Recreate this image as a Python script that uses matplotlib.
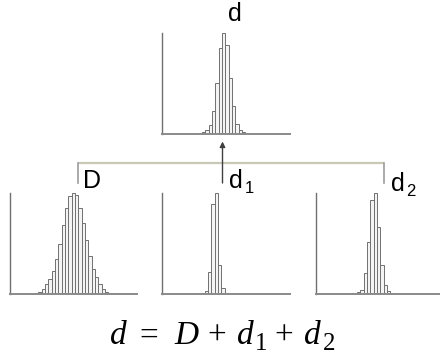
import matplotlib
matplotlib.use("Agg")
import matplotlib.pyplot as plt
import numpy as np

# Histogram bin offsets (in bins, relative to each peak) and relative counts (peak = 100)
d_bins = list(range(-6, 7))
d_counts = [2, 4, 9, 23, 50, 85, 100, 88, 55, 28, 10, 4, 2]

D_bins = list(range(-11, 12))
D_counts = [1, 2, 5, 10, 15, 23, 35, 50, 68, 85, 97, 100, 98, 85, 70, 53, 38, 25, 17, 10, 5, 2, 1]

d1_bins = list(range(-4, 4))
d1_counts = [1, 3, 22, 89, 100, 29, 6, 1]

d2_bins = list(range(-5, 6))
d2_counts = [2, 4, 21, 51, 93, 100, 66, 29, 9, 3, 1]

W, H = 440, 356
fig = plt.figure(figsize=(W / 100, H / 100), dpi=100)
fig.patch.set_facecolor("white")


def px_axes(x0, y0, x1, y1):
    """Axes placed by pixel box (top-left origin)."""
    return fig.add_axes([x0 / W, 1 - y1 / H, (x1 - x0) / W, (y1 - y0) / H])


def hist_panel(ax, bins, counts, xlim):
    ax.bar(bins, counts, width=1.0, facecolor="#f4f4f4", edgecolor="#707070",
           linewidth=0.7, zorder=2)
    ax.set_xlim(*xlim)
    ax.set_ylim(0, 100)
    for s in ("top", "right"):
        ax.spines[s].set_visible(False)
    ax.spines["left"].set_color("#707070")
    ax.spines["bottom"].set_color("#8a8a8a")
    ax.spines["left"].set_linewidth(1.0)
    ax.spines["bottom"].set_linewidth(1.4)
    ax.set_xticks([])
    ax.set_yticks([])
    ax.patch.set_alpha(0)


hist_panel(px_axes(162, 33, 290, 134), d_bins, d_counts, (-18.5, 19.9))
hist_panel(px_axes(10, 193, 137, 294), D_bins, D_counts, (-19.0, 19.1))
hist_panel(px_axes(162, 193, 290, 294), d1_bins, d1_counts, (-16.3, 22.0))
hist_panel(px_axes(316, 193, 444, 294), d2_bins, d2_counts, (-17.8, 20.6))

# Overlay in pixel coordinates for the connector, arrow and labels
ov = fig.add_axes([0, 0, 1, 1])
ov.set_xlim(0, W)
ov.set_ylim(H, 0)
ov.axis("off")
ov.patch.set_alpha(0)

ov.plot([77.7, 384], [162.5, 162.5], color="#c8c8b4", lw=1.6, solid_capstyle="butt")
ov.plot([77.7, 77.7], [162.5, 183], color="#9c9c9c", lw=1.2)
ov.plot([384, 384], [162.5, 183], color="#9c9c9c", lw=1.2)
ov.annotate("", xy=(222.5, 141.5), xytext=(222.5, 183),
            arrowprops=dict(arrowstyle="-|>", color="#404040", lw=1.0,
                            mutation_scale=8, shrinkA=0, shrinkB=0))

sans = "Liberation Sans"
ov.text(228, 20.7, "d", fontsize=18, family=sans, va="baseline", ha="left")
ov.text(83, 188.3, "D", fontsize=18, family=sans, va="baseline", ha="left")
ov.text(229, 188.3, "d", fontsize=18, family=sans, va="baseline", ha="left")
ov.text(245, 193.3, "1", fontsize=12, family=sans, va="baseline", ha="left")
ov.text(390.5, 190.7, "d", fontsize=18, family=sans, va="baseline", ha="left")
ov.text(406.5, 195.5, "2", fontsize=12, family=sans, va="baseline", ha="left")

# Equation d = D + d1 + d2
serif = "Liberation Serif"
main_y, sub_y = 344.3, 349.8
eq_parts = [
    (118.8, main_y, "d", "italic", 24),
    (149, main_y, "=", "normal", 24),
    (186.5, main_y, "D", "italic", 24),
    (217, main_y, "+", "normal", 24),
    (245.5, main_y, "d", "italic", 24),
    (261.5, sub_y, "1", "normal", 18),
    (284, main_y, "+", "normal", 24),
    (312.5, main_y, "d", "italic", 24),
    (329, sub_y, "2", "normal", 18),
]
for x, y, s, style, size in eq_parts:
    ov.text(x, y, s, fontsize=size, family=serif, style=style,
            va="baseline", ha="center")

fig.savefig("out.png", dpi=100, facecolor="white")
